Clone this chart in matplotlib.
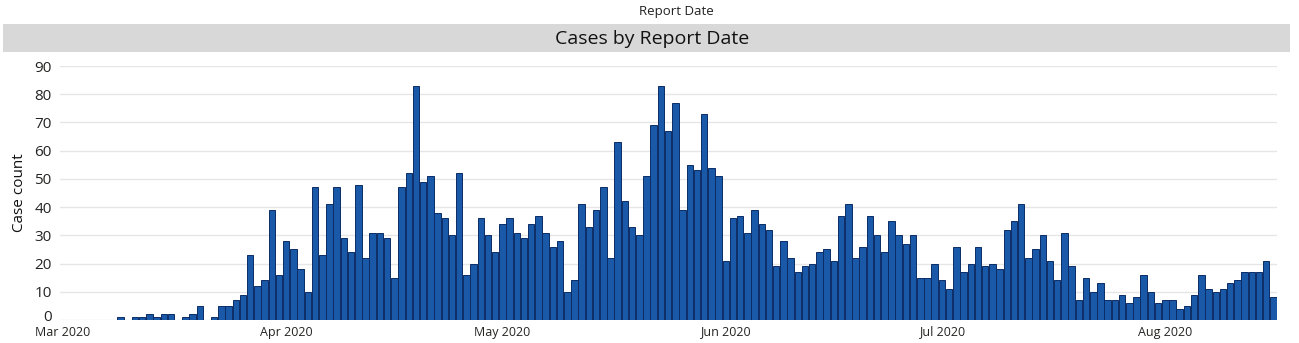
import matplotlib
matplotlib.use("Agg")
import matplotlib.pyplot as plt
import matplotlib.dates as mdates
import matplotlib.transforms as mtransforms
import pandas as pd
from matplotlib.patches import Rectangle

plt.rcParams["font.family"] = ["Open Sans", "DejaVu Sans"]

# Daily reported cases, starting 9 March 2020
first_day = "2020-03-09"
cases = [
    # Mar 9 - Mar 31
    1, 0, 1, 1, 2, 1, 2, 2, 0, 1, 2, 5, 0, 1, 5, 5, 7, 9, 23, 12, 14, 39, 16,
    # April
    28, 25, 18, 10, 47, 23, 41, 47, 29, 24, 48, 22, 31, 31, 29,
    15, 47, 52, 83, 49, 51, 38, 36, 30, 52, 16, 20, 36, 30, 24,
    # May
    34, 36, 31, 29, 34, 37, 31, 26, 28, 10, 14, 41, 33, 39, 47, 22,
    63, 42, 33, 30, 51, 69, 83, 67, 77, 39, 55, 53, 73, 54, 51,
    # June
    21, 36, 37, 31, 39, 34, 32, 19, 28, 22, 17, 19, 20, 24, 25,
    21, 37, 41, 22, 26, 37, 30, 24, 35, 30, 27, 30, 15, 15, 20,
    # July
    14, 11, 26, 17, 20, 26, 19, 20, 18, 32, 35, 41, 22, 25, 30, 21,
    14, 31, 19, 7, 15, 10, 13, 7, 7, 9, 6, 8, 16, 10, 6,
    # Aug 1 - Aug 16
    7, 7, 4, 5, 9, 16, 11, 10, 11, 13, 14, 17, 17, 17, 21, 8,
]
dates = pd.date_range(first_day, periods=len(cases), freq="D")

month_ticks = pd.to_datetime(["2020-03-01", "2020-04-01", "2020-05-01",
                              "2020-06-01", "2020-07-01", "2020-08-01"])
month_labels = ["Mar 2020", "Apr 2020", "May 2020", "Jun 2020", "Jul 2020", "Aug 2020"]
y_ticks = list(range(0, 100, 10))

W, H = 1299, 343
fig = plt.figure(figsize=(W / 100, H / 100), dpi=100)

# header band and titles
fig.patches.append(Rectangle((3 / W, 1 - 52 / H), 1287 / W, 28 / H,
                             transform=fig.transFigure, facecolor="#d8d8d8",
                             edgecolor="none", zorder=0))
fig.text(676 / W, 1 - 12 / H, "Report Date", ha="center", va="center",
         fontsize=9.5, color="#222222")
fig.text(652 / W, 1 - 39 / H, "Cases by Report Date", ha="center", va="center",
         fontsize=14, color="#111111")

ax = fig.add_axes([60 / W, 23 / H, (1277 - 60) / W, (320 - 66) / H])

xnum = mdates.date2num(dates)
ax.bar(xnum, cases, width=0.9, color="#1a58a8", edgecolor="#0c2c66",
       linewidth=0.7, zorder=3)

x0 = mdates.date2num(pd.Timestamp("2020-03-01")) - 0.4
x1 = mdates.date2num(dates[-1]) + 0.5
ax.set_xlim(x0, x1)
ax.set_ylim(0, 90)

ax.set_xticks(mdates.date2num(month_ticks))
ax.set_xticklabels(month_labels, fontsize=9, color="#252423")
ax.set_yticks(y_ticks)
ax.set_yticklabels([str(v) for v in y_ticks], fontsize=11, color="#252423")
ax.tick_params(axis="x", length=0, pad=4)
ax.tick_params(axis="y", length=0, pad=6)

# lift the zero label a little so it clears the first month label
zero_lbl = ax.get_yticklabels()[0]
zero_lbl.set_transform(zero_lbl.get_transform() +
                       mtransforms.ScaledTranslation(0, 3 / 72, fig.dpi_scale_trans))

ax.grid(axis="y", color="#e6e6e6", linewidth=1, zorder=0)
ax.set_axisbelow(True)
for s in ax.spines.values():
    s.set_visible(False)

ax.set_ylabel("Case count", fontsize=11, color="#111111", labelpad=5)

fig.savefig("out.png", dpi=100)
